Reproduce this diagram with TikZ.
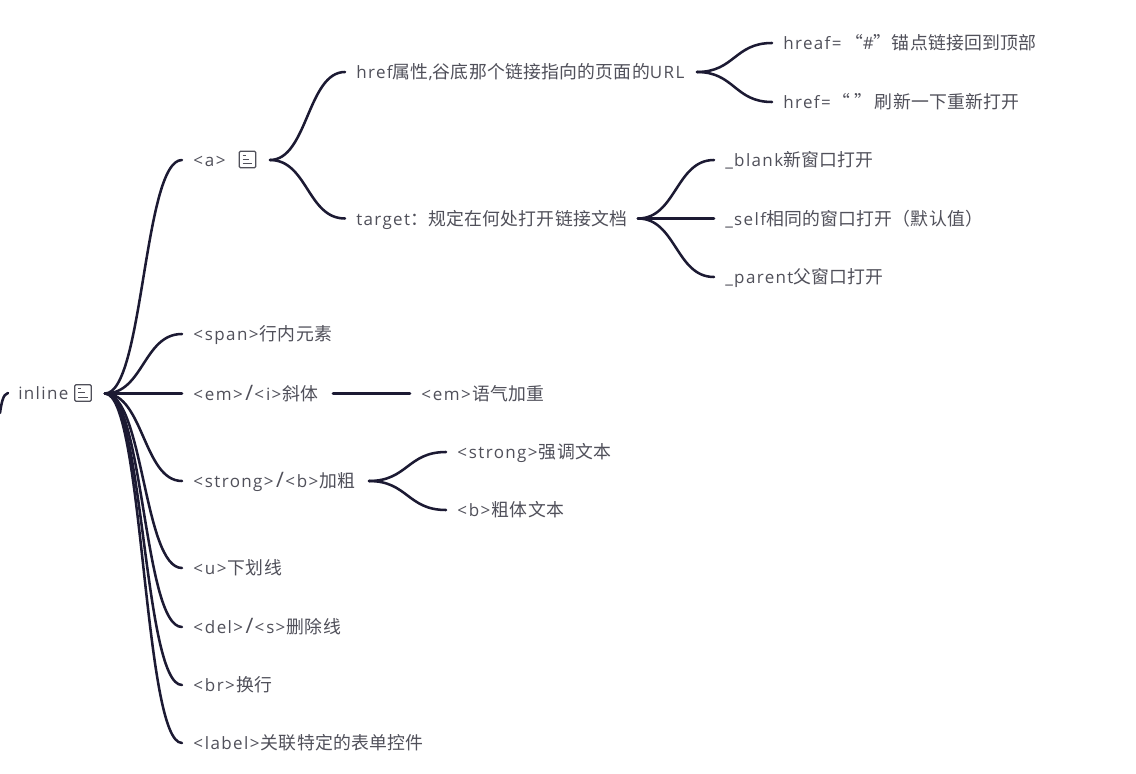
\documentclass[tikz,border=0pt]{standalone}
\usepackage{fontspec}
\usetikzlibrary{calc}
\setmainfont[LetterSpace=8]{Open Sans}
\newfontfamily\cjk[LetterSpace=1.5,Scale=1.05]{Noto Sans CJK SC}
\newcommand\zh[1]{{\cjk #1}}
\newcommand\LT{\kern.1pt<\kern1.4pt}
\newcommand\GT{\kern1pt>\kern1pt}
\newcommand\SL{\kern.9pt{\fontsize{16pt}{16pt}\selectfont /}\kern.9pt}
\definecolor{linkc}{HTML}{1C1A33}
\definecolor{textc}{HTML}{50505A}
\tikzset{
 topic/.style={anchor=west,inner xsep=11pt*0.75,inner ysep=0pt,text height=10pt,text depth=0pt,font=\fontsize{12.75pt}{15pt}\selectfont,text=textc},
 link/.style={draw=linkc,line width=1.9pt,line cap=round},
 noteicon/.style={draw=textc,line width=.9pt,rounded corners=1pt,minimum size=12.5pt,inner sep=0pt,
  path picture={\draw[textc,line width=.8pt]
   ([shift={(2.6pt,-3pt)}]path picture bounding box.north west)--++(2.5pt,0)
   ([shift={(2.6pt,-6.2pt)}]path picture bounding box.north west)--++(5pt,0)
   ([shift={(2.6pt,-9.4pt)}]path picture bounding box.north west)--++(7.3pt,0);}}
}
\newcommand\conn[2]{\draw[link] let \p1=(#1),\p2=(#2) in (#1) .. controls (\x1*.5+\x2*.5,\y1) and (\x1*.5+\x2*.5,\y2) .. (#2);}
\newcommand\lnk[2]{\draw[link] (#1) -- (#2);}
\begin{document}
\begin{tikzpicture}[x=.75pt,y=-.75pt]
\useasboundingbox[fill=white] (0,0) rectangle (1136,774);
% nodes
\node[topic] (inline) at (7,393) {inline};
\node[noteicon] (iconI) at (83,393) {};
\node[topic] (a) at (182,160) {\LT a\GT};
\node[noteicon] (iconA) at (247.5,159.5) {};
\node[topic] (span) at (182,334) {\LT span\GT\zh{行内元素}};
\node[topic] (em) at (182,393.5) {\LT em\GT\SL\LT i\GT\zh{斜体}};
\node[topic] (strong) at (182,481) {\LT strong\GT\SL\LT b\GT\zh{加粗}};
\node[topic] (u) at (182,568) {\LT u\GT\zh{下划线}};
\node[topic] (del) at (182,627) {\LT del\GT\SL\LT s\GT\zh{删除线}};
\node[topic] (br) at (182,685) {\LT br\GT\zh{换行}};
\node[topic] (label) at (182,743) {\LT label\GT\zh{关联特定的表单控件}};
\node[topic] (href) at (345,72) {href\zh{属性},\zh{谷底那个链接指向的页面的}URL};
\node[topic] (target) at (345,218.5) {target\zh{：规定在何处打开链接文档}};
\node[topic] (emsub) at (410,393.5) {\LT em\GT\zh{语气加重}};
\node[topic] (strongsub) at (446,452) {\LT strong\GT\zh{强调文本}};
\node[topic] (bsub) at (446,510) {\LT b\GT\zh{粗体文本}};
\node[topic] (hreaf) at (772,43) {hreaf=\kern2.6pt\zh{“}\#\zh{”锚点链接回到顶部}};
\node[topic] (hrefe) at (772,102) {href=\kern1pt\zh{“ ”}\kern2.2pt\zh{刷新一下重新打开}};
\node[topic] (blank) at (714,160) {\_blank\zh{新窗口打开}};
\node[topic] (self) at (714,218.5) {\_self\zh{相同的窗口打开（默认值）}};
\node[topic] (parent) at (714,277) {\_parent\zh{父窗口打开}};
% hubs
\coordinate (hI) at (105,393.5);
\coordinate (hA) at (270,160);
\coordinate (hH) at (697,72);
\coordinate (hT) at (638,218.5);
\coordinate (hE) at (333,393.5);
\coordinate (hS) at (369,481);
\coordinate (stubA) at (0,413);
\coordinate (stubB) at (8,393);
% connectors
\draw[link] (stubA) .. controls (1.5,403) and (3,394) .. (stubB);
\conn{hI}{a.west}
\conn{hI}{span.west}
\lnk{hI}{em.west}
\conn{hI}{strong.west}
\conn{hI}{u.west}
\conn{hI}{del.west}
\conn{hI}{br.west}
\conn{hI}{label.west}
\conn{hA}{href.west}
\conn{hA}{target.west}
\conn{hH}{hreaf.west}
\conn{hH}{hrefe.west}
\conn{hT}{blank.west}
\lnk{hT}{self.west}
\conn{hT}{parent.west}
\lnk{hE}{emsub.west}
\conn{hS}{strongsub.west}
\conn{hS}{bsub.west}
\end{tikzpicture}
\end{document}
